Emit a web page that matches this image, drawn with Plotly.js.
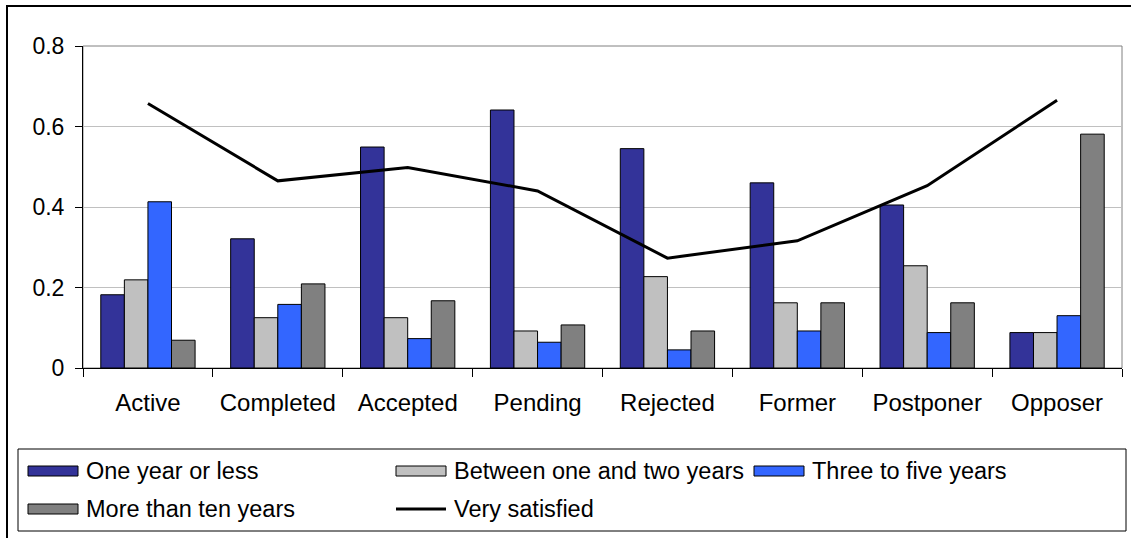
<!DOCTYPE html>
<html>
<head>
<meta charset="utf-8">
<script src="https://cdn.plot.ly/plotly-3.0.1.min.js"></script>
<style>
  html, body { margin: 0; padding: 0; background: #ffffff; }
  #chart { width: 1131px; height: 538px; }
</style>
</head>
<body>
<div id="chart"></div>
<script>
// Categories along the x axis
const categories = ['Active', 'Completed', 'Accepted', 'Pending', 'Rejected', 'Former', 'Postponer', 'Opposer'];

// Bar series (share of respondents by time period)
const oneYearOrLess    = [0.182, 0.321, 0.549, 0.641, 0.545, 0.460, 0.405, 0.088];
const oneToTwoYears    = [0.219, 0.125, 0.125, 0.092, 0.227, 0.162, 0.254, 0.088];
const threeToFiveYears = [0.413, 0.158, 0.073, 0.064, 0.045, 0.092, 0.088, 0.130];
const moreThanTenYears = [0.069, 0.209, 0.167, 0.107, 0.092, 0.162, 0.162, 0.581];

// Line series
const verySatisfied    = [0.657, 0.465, 0.498, 0.440, 0.273, 0.316, 0.453, 0.665];

// Y axis ticks
const yTickVals  = [0, 0.2, 0.4, 0.6, 0.8];
const yTickText  = ['0', '0.2', '0.4', '0.6', '0.8'];

// Series names
const seriesNames = ['One year or less', 'Between one and two years', 'Three to five years',
                     'More than ten years', 'Very satisfied'];

const FONT = 'Liberation Sans, Arial, sans-serif';
const W = 1131, H = 538;
const M = { l: 83, r: 9, t: 46, b: 170 };
const PW = W - M.l - M.r, PH = H - M.t - M.b;
const px = v => (v - M.l) / PW;          // page x pixel -> paper x
const py = v => (H - M.b - v) / PH;      // page y pixel -> paper y

const barColors = ['#333399', '#C0C0C0', '#3366FF', '#808080'];
const barSeries = [oneYearOrLess, oneToTwoYears, threeToFiveYears, moreThanTenYears];

const traces = barSeries.map((vals, i) => ({
  type: 'bar',
  x: categories,
  y: vals,
  name: seriesNames[i],
  marker: { color: barColors[i], line: { color: '#000000', width: 1 } },
  showlegend: false
}));

traces.push({
  type: 'scatter',
  mode: 'lines',
  x: categories,
  y: verySatisfied,
  name: seriesNames[4],
  line: { color: '#000000', width: 3 },
  showlegend: false
});

// Hand-built legend: long swatches, two rows, three columns
const legendItems = [
  { kind: 'bar',  color: barColors[0], sx: 28,  row: 0, label: seriesNames[0] },
  { kind: 'bar',  color: barColors[1], sx: 396, row: 0, label: seriesNames[1] },
  { kind: 'bar',  color: barColors[2], sx: 754, row: 0, label: seriesNames[2] },
  { kind: 'bar',  color: barColors[3], sx: 28,  row: 1, label: seriesNames[3] },
  { kind: 'line', color: '#000000',    sx: 396, row: 1, label: seriesNames[4] }
];
const rowY = [471, 509];
const swW = 50, swH = 10, txtGap = 6;

const shapes = [
  // outer frame of the whole figure
  { type: 'rect', xref: 'paper', yref: 'paper', layer: 'above',
    x0: px(7), x1: px(W + 10), y0: py(H + 10), y1: py(6),
    line: { color: '#000000', width: 2 }, fillcolor: 'rgba(0,0,0,0)' },
  // plot area border
  { type: 'rect', xref: 'paper', yref: 'paper', layer: 'below',
    x0: 0, x1: 1, y0: 0, y1: 1,
    line: { color: '#808080', width: 1 }, fillcolor: 'rgba(0,0,0,0)' },
  // legend box
  { type: 'rect', xref: 'paper', yref: 'paper', layer: 'above',
    x0: px(18), x1: px(1126), y0: py(531), y1: py(449),
    line: { color: '#000000', width: 1 }, fillcolor: 'rgba(0,0,0,0)' }
];
const annotations = [];

legendItems.forEach(it => {
  const cy = rowY[it.row];
  if (it.kind === 'bar') {
    shapes.push({ type: 'rect', xref: 'paper', yref: 'paper', layer: 'above',
      x0: px(it.sx), x1: px(it.sx + swW), y0: py(cy + swH / 2), y1: py(cy - swH / 2),
      line: { color: '#000000', width: 1 }, fillcolor: it.color });
  } else {
    shapes.push({ type: 'line', xref: 'paper', yref: 'paper', layer: 'above',
      x0: px(it.sx), x1: px(it.sx + swW), y0: py(cy), y1: py(cy),
      line: { color: it.color, width: 3 } });
  }
  annotations.push({ xref: 'paper', yref: 'paper', x: px(it.sx + swW + txtGap), y: py(cy),
    xanchor: 'left', yanchor: 'middle', showarrow: false, text: it.label,
    font: { family: FONT, size: 23.5, color: '#000000' } });
});

const layout = {
  width: W, height: H,
  margin: M,
  paper_bgcolor: '#ffffff',
  plot_bgcolor: '#ffffff',
  barmode: 'group',
  bargap: 0.274,
  bargroupgap: 0,
  showlegend: false,
  font: { family: FONT, size: 23, color: '#000000' },
  xaxis: {
    type: 'category',
    tickson: 'boundaries',
    ticks: 'outside', ticklen: 8, tickcolor: '#000000', tickwidth: 1,
    showline: true, linecolor: '#000000', linewidth: 1,
    showgrid: false, zeroline: false,
    ticklabelstandoff: 13,
    tickfont: { family: FONT, size: 24, color: '#000000' }
  },
  yaxis: {
    range: [0, 0.8],
    tickvals: yTickVals, ticktext: yTickText,
    ticks: 'outside', ticklen: 7, tickcolor: '#000000', tickwidth: 1,
    showline: true, linecolor: '#000000', linewidth: 1,
    showgrid: true, gridcolor: '#C0C0C0', gridwidth: 1,
    zeroline: false,
    ticklabelstandoff: 6,
    tickfont: { family: FONT, size: 23, color: '#000000' }
  },
  shapes: shapes,
  annotations: annotations,
  hovermode: false
};

Plotly.newPlot('chart', traces, layout, { staticPlot: true, displayModeBar: false });
</script>
</body>
</html>
